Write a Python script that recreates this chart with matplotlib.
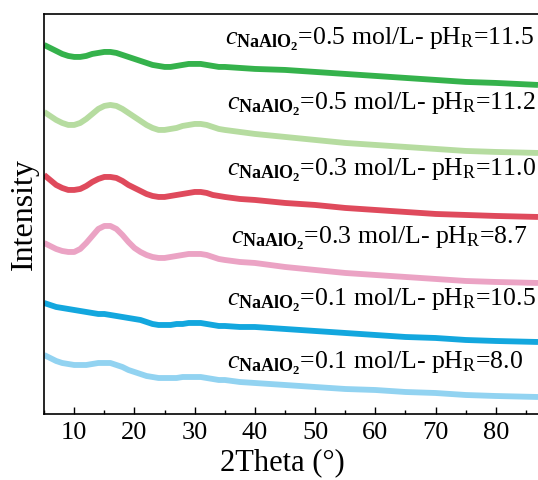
import numpy as np
import matplotlib
matplotlib.use("Agg")
import matplotlib.pyplot as plt
from matplotlib.ticker import MultipleLocator

plt.rcParams['font.family'] = ['Liberation Serif', 'DejaVu Serif']
plt.rcParams['mathtext.fontset'] = 'custom'
plt.rcParams['mathtext.rm'] = 'Liberation Serif'
plt.rcParams['mathtext.it'] = 'Liberation Serif:italic'
plt.rcParams['mathtext.bf'] = 'Liberation Serif:bold'

two_theta = [5, 6, 7, 8, 9, 10, 11, 12, 13, 14, 15, 16, 17, 18, 19, 20,
             21, 22, 23, 24, 25, 26, 27, 28, 29, 30, 31, 32, 33, 34, 35,
             37.5, 40, 45, 50, 55, 60, 65, 70, 75, 80, 87]

# stacked (offset) intensities, top to bottom
i_05_115 = [369, 366, 363, 360, 358, 357, 357, 358, 360, 361, 362, 362, 361, 359,
            357, 355, 353, 351, 349, 348, 347, 347, 348, 349, 350, 350, 350, 349,
            348, 347, 347, 346, 345, 344, 342, 340, 338, 336, 334, 332, 331, 329]
i_05_112 = [302, 298, 294, 291, 289, 289, 291, 295, 300, 305, 308, 309, 308, 305,
            301, 297, 293, 289, 286, 284, 284, 285, 286, 288, 289, 290, 290, 289,
            287, 285, 284, 282, 280, 277, 274, 271, 269, 267, 265, 263, 262, 261]
i_03_110 = [239, 234, 229, 226, 224, 224, 225, 228, 232, 235, 237, 237, 236, 233,
            229, 226, 223, 220, 218, 217, 217, 218, 219, 220, 221, 222, 222, 221,
            219, 218, 217, 215, 214, 211, 209, 206, 204, 202, 200, 199, 198, 197]
i_03_87 = [171, 168, 165, 163, 162, 162, 165, 171, 178, 185, 188, 188, 185, 179,
           172, 166, 162, 159, 157, 156, 156, 157, 158, 159, 160, 160, 160, 159,
           157, 155, 154, 152, 151, 147, 144, 141, 139, 137, 135, 133, 132, 131]
i_01_105 = [111, 109, 107, 106, 105, 104, 103, 102, 101, 100, 100, 99, 98, 97,
            96, 95, 94, 92, 90, 89, 89, 89, 90, 90, 91, 91, 91, 90,
            89, 88, 88, 87, 87, 85, 83, 81, 79, 77, 76, 74, 73, 72]
i_01_80 = [59, 56, 53, 51, 50, 49, 49, 49, 50, 51, 51, 51, 49, 47,
           44, 42, 40, 38, 37, 36, 36, 36, 36, 37, 37, 37, 37, 36,
           35, 34, 34, 32, 31, 29, 27, 25, 24, 22, 21, 19, 18, 17]

series = [i_05_115, i_05_112, i_03_110, i_03_87, i_01_105, i_01_80]
conc = ['0.5', '0.5', '0.3', '0.3', '0.1', '0.1']
ph = ['11.5', '11.2', '11.0', '8.7', '10.5', '8.0']
colors = ['#35b24c', '#b6dca0', '#df4a5c', '#eba3c4', '#13a7de', '#92d3f1']
label_x = [35.0, 35.3, 35.3, 36.1, 35.3, 35.3]
label_y = [374, 309, 244, 176, 114, 51]

fig = plt.figure(figsize=(5.38, 4.8), dpi=100)
ax = fig.add_axes([0.082, 0.1375, 0.918, 0.8335])

for y, c in zip(series, colors):
    ax.plot(two_theta, y, color=c, lw=4.2, solid_capstyle='butt')

for k in range(len(series)):
    lab = r'$c_{\mathbf{NaAlO_2}}$=' + conc[k] + r' mol/L- pH$_\mathrm{R}$=' + ph[k]
    ax.text(label_x[k], label_y[k], lab, fontsize=18.5, ha='left', va='center')

ax.set_xlim(5, 87)
ax.set_ylim(0, 400)
ax.xaxis.set_major_locator(MultipleLocator(10))
ax.xaxis.set_minor_locator(MultipleLocator(5))
ax.tick_params(axis='x', which='major', direction='in', length=5, width=1, labelsize=19, pad=6)
ax.tick_params(axis='x', which='minor', direction='in', length=3, width=1)
ax.set_yticks([])
ax.spines['right'].set_visible(False)
for s in ['left', 'top', 'bottom']:
    ax.spines[s].set_linewidth(1.2)

ax.set_xlabel('2Theta (°)', fontsize=22, labelpad=0)
ax.xaxis.set_label_coords(0.482, -0.085)
ax.set_ylabel('Intensity', fontsize=23, labelpad=4)

plt.savefig('out.png', dpi=100)
